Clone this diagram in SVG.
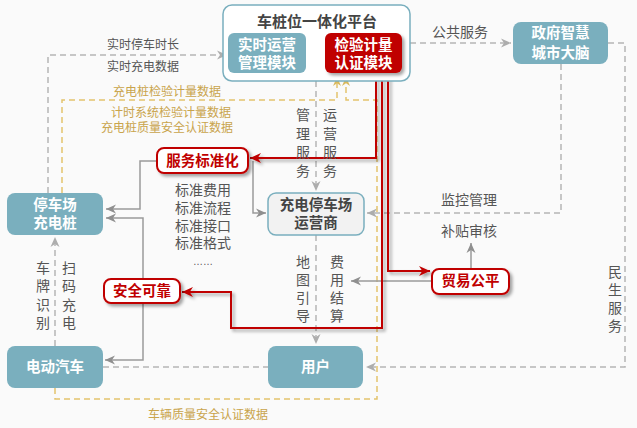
<svg xmlns="http://www.w3.org/2000/svg" width="637" height="428" viewBox="0 0 637 428">
<defs>
<style>
text{font-family:"Liberation Sans","Noto Sans CJK SC",sans-serif;}
.lbl{font-size:14px;fill:#555;text-anchor:middle;}
.sm{font-size:12px;fill:#555;text-anchor:middle;}
.gold{font-size:12px;fill:#c9a44c;text-anchor:middle;}
.nt{font-size:14.5px;font-weight:bold;fill:#fff;text-anchor:middle;}
.rt{font-size:14.5px;font-weight:bold;fill:#c00000;text-anchor:middle;}
.teal{fill:#7aafbe;}
.gs{fill:none;stroke:#9a9a9a;stroke-width:1.5;}
.gd{fill:none;stroke:#b5b5b5;stroke-width:1.5;stroke-dasharray:6 4;}
.od{fill:none;stroke:#e3c46e;stroke-width:1.5;stroke-dasharray:6 4;}
.rl{fill:none;stroke:#c00000;stroke-width:2;}
.rbox{fill:#fff;stroke:#c00000;stroke-width:2;}
</style>
<marker id="aG" viewBox="0 0 10 10" refX="10" refY="5" markerWidth="11" markerHeight="10" markerUnits="userSpaceOnUse" orient="auto"><path d="M0,0.5 L10,5 L0,9.5 L3,5 z" fill="#8f8f8f"/></marker>
<marker id="aD" viewBox="0 0 10 10" refX="10" refY="5" markerWidth="11" markerHeight="10" markerUnits="userSpaceOnUse" orient="auto"><path d="M0,0.5 L10,5 L0,9.5 L3,5 z" fill="#adadad"/></marker>
<marker id="aO" viewBox="0 0 10 10" refX="10" refY="5" markerWidth="10" markerHeight="9" markerUnits="userSpaceOnUse" orient="auto"><path d="M0,0.5 L10,5 L0,9.5 L3,5 z" fill="#d9b95e"/></marker>
<marker id="aR" viewBox="0 0 10 10" refX="10" refY="5" markerWidth="12" markerHeight="11" markerUnits="userSpaceOnUse" orient="auto"><path d="M0,0.5 L10,5 L0,9.5 L3,5 z" fill="#c00000"/></marker>
<marker id="aL" viewBox="0 0 10 10" refX="10" refY="5" markerWidth="11" markerHeight="10" markerUnits="userSpaceOnUse" orient="auto"><path d="M0,0.5 L10,5 L0,9.5 L3,5 z" fill="#d65252"/></marker>
<filter id="sh" filterUnits="userSpaceOnUse" x="0" y="0" width="637" height="428"><feDropShadow dx="2.5" dy="2.5" stdDeviation="1.5" flood-color="#000" flood-opacity="0.35"/></filter>
</defs>
<rect x="0" y="0" width="637" height="428" fill="#fafafa"/>

<g id="connectors">
<path class="gd" d="M48,193 V55 H227" marker-end="url(#aD)"/>
<path class="gd" d="M410,43 H511" marker-end="url(#aD)"/>
<path class="gd" d="M608,43 H625 V367 H366" marker-end="url(#aD)"/>
<path class="gd" d="M561,64 V213 H367" marker-end="url(#aD)"/>
<path class="gd" d="M316,81 V191" marker-end="url(#aD)"/>
<path class="gd" d="M316,235 V344" marker-end="url(#aD)"/>
<path class="gd" d="M55,346 V237" marker-end="url(#aD)"/>
<path class="gd" d="M103,367 H268"/>
<path class="od" d="M62,193 V100 H337 V77" marker-end="url(#aO)"/>
<path class="od" d="M55,388 V399 H377 V100 H346 V77" marker-end="url(#aO)"/>
<path class="gs" d="M157,161 H140 V209 H106" marker-end="url(#aG)"/>
<path class="gs" d="M253,161 V213 H266" marker-end="url(#aG)"/>
<path class="gs" d="M143,279 V218 H106" marker-end="url(#aG)"/>
<path class="gs" d="M143,303 V360 H105" marker-end="url(#aG)"/>
<path class="gs" d="M432,281 H351" marker-end="url(#aG)"/>
<path class="gs" d="M471,269 V243" marker-end="url(#aG)"/>
<g filter="url(#sh)">
<path class="rl" d="M376,75 V158 H250" marker-end="url(#aR)"/>
<path class="rl" d="M382,75 V328 H231 V292 H182" marker-end="url(#aR)"/>
<path class="rl" d="M388,75 V271 H430" marker-end="url(#aR)"/>
</g>
<path fill="none" stroke="#d65252" stroke-width="1.5" d="M325,54 H308" marker-end="url(#aL)"/>
</g>

<g id="platform">
<rect x="223" y="5" width="187" height="76" rx="9" fill="#fff" stroke="#7aafbe" stroke-width="1.5"/>
<text x="317" y="27" text-anchor="middle" font-size="15" font-weight="bold" fill="#444">车桩位一体化平台</text>
</g>
<g id="realtime">
<rect class="teal" x="228" y="33" width="78" height="40" rx="6"/>
<text class="nt" x="267" y="50"><tspan x="267">实时运营</tspan><tspan x="267" dy="18">管理模块</tspan></text>
</g>
<g id="inspect">
<rect x="325" y="33" width="77" height="40" rx="6" fill="#c00000" filter="url(#sh)"/>
<text class="nt" x="363.5" y="50"><tspan x="363.5">检验计量</tspan><tspan x="363.5" dy="18">认证模块</tspan></text>
</g>
<g id="gov">
<rect class="teal" x="513" y="22" width="95" height="42" rx="8"/>
<text class="nt" x="560.5" y="38"><tspan x="560.5">政府智慧</tspan><tspan x="560.5" dy="20">城市大脑</tspan></text>
</g>
<g id="pile">
<rect class="teal" x="7" y="193" width="96" height="42" rx="8"/>
<text class="nt" x="55" y="210"><tspan x="55">停车场</tspan><tspan x="55" dy="18">充电桩</tspan></text>
</g>
<g id="operator">
<rect x="268" y="193" width="96" height="42" rx="8" fill="#f2f2f2" stroke="#7aafbe" stroke-width="1.5"/>
<text class="nt" x="316" y="210" style="fill:#444"><tspan x="316">充电停车场</tspan><tspan x="316" dy="18">运营商</tspan></text>
</g>
<g id="ev">
<rect class="teal" x="7" y="346" width="96" height="42" rx="8"/>
<text class="nt" x="55" y="372">电动汽车</text>
</g>
<g id="user">
<rect class="teal" x="268" y="346" width="95" height="42" rx="8"/>
<text class="nt" x="315.5" y="372">用户</text>
</g>
<g id="standard">
<rect class="rbox" x="157" y="148" width="91" height="25" rx="7" filter="url(#sh)"/>
<text class="rt" x="202.5" y="166">服务标准化</text>
</g>
<g id="safe">
<rect class="rbox" x="104" y="279" width="76" height="24" rx="7" filter="url(#sh)"/>
<text class="rt" x="142" y="296">安全可靠</text>
</g>
<g id="fair">
<rect class="rbox" x="432" y="269" width="77" height="25" rx="7" filter="url(#sh)"/>
<text class="rt" x="470.5" y="286">贸易公平</text>
</g>

<g id="labels">
<text class="sm" x="143" y="49"><tspan x="143">实时停车时长</tspan><tspan x="143" dy="22">实时充电数据</tspan></text>
<text class="gold" x="167" y="96">充电桩检验计量数据</text>
<text class="gold" x="171" y="117"><tspan x="171">计时系统检验计量数据</tspan><tspan x="167" dy="15">充电桩质量安全认证数据</tspan></text>
<text class="gold" x="208" y="419">车辆质量安全认证数据</text>
<text class="lbl" x="460" y="37">公共服务</text>
<text class="lbl" x="469" y="205">监控管理</text>
<text class="lbl" x="469" y="236">补贴审核</text>
<text class="lbl" x="203" y="195"><tspan x="203">标准费用</tspan><tspan x="203" dy="18">标准流程</tspan><tspan x="203" dy="18">标准接口</tspan><tspan x="203" dy="17">标准格式</tspan></text>
<text x="203" y="265" text-anchor="middle" font-size="10" fill="#555">……</text>
<text class="lbl" x="303" y="120"><tspan x="303">管</tspan><tspan x="303" dy="18.5">理</tspan><tspan x="303" dy="18.5">服</tspan><tspan x="303" dy="18.5">务</tspan></text>
<text class="lbl" x="330" y="120"><tspan x="330">运</tspan><tspan x="330" dy="18.5">营</tspan><tspan x="330" dy="18.5">服</tspan><tspan x="330" dy="18.5">务</tspan></text>
<text class="lbl" x="303" y="267"><tspan x="303">地</tspan><tspan x="303" dy="18">图</tspan><tspan x="303" dy="18">引</tspan><tspan x="303" dy="18">导</tspan></text>
<text class="lbl" x="337" y="267"><tspan x="337">费</tspan><tspan x="337" dy="18">用</tspan><tspan x="337" dy="18">结</tspan><tspan x="337" dy="18">算</tspan></text>
<text class="lbl" x="43" y="273"><tspan x="43">车</tspan><tspan x="43" dy="18.3">牌</tspan><tspan x="43" dy="18.3">识</tspan><tspan x="43" dy="18.3">别</tspan></text>
<text class="lbl" x="69" y="273"><tspan x="69">扫</tspan><tspan x="69" dy="18.3">码</tspan><tspan x="69" dy="18.3">充</tspan><tspan x="69" dy="18.3">电</tspan></text>
<text class="lbl" x="615" y="277"><tspan x="615">民</tspan><tspan x="615" dy="18">生</tspan><tspan x="615" dy="18">服</tspan><tspan x="615" dy="18">务</tspan></text>
</g>
</svg>
